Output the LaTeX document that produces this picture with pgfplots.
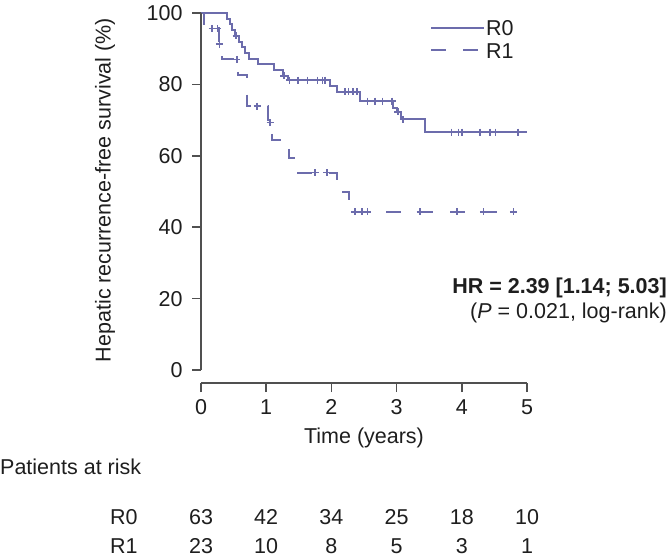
\documentclass[border=0pt]{standalone}
\usepackage{pgfplots}
\pgfplotsset{compat=1.18}
\usepackage{fontspec}
\setmainfont{Liberation Sans}
\definecolor{km}{RGB}{108,108,172}
\definecolor{axc}{RGB}{80,80,80}
\definecolor{txt}{RGB}{30,30,30}
\newcommand{\fs}{\fontsize{21.5}{26}\selectfont}
\begin{document}
\begin{tikzpicture}[x=1pt,y=1pt]
\path[use as bounding box] (0,0) rectangle (668,558);
\begin{axis}[
  at={(201pt,175pt)}, anchor=south west,
  scale only axis, width=326pt, height=370pt,
  xmin=0, xmax=5, ymin=-3.64, ymax=100,
  axis lines=left, axis line style={draw=none},
  clip=false,
  xtick={0,1,2,3,4,5}, ytick={0,20,40,60,80,100},
  tick align=outside, major tick length=9pt,
  tick style={axc, line width=1.7pt},
  tick label style={font=\fs, text=txt},
  yticklabel style={xshift=-6pt},
  xticklabel style={yshift=-4pt},
  /pgf/number format/assume math mode=true,
  every axis y label/.style={at={(axis description cs:-0.294,0.5216)}, rotate=90, anchor=center},
  every axis x label/.style={at={(axis description cs:0.5,-0.1486)}, anchor=center},
  label style={font=\fs, text=txt},
  xlabel={Time (years)},
  ylabel={Hepatic recurrence-free survival (\%)},
  legend image code/.code={\draw[#1] (0pt,0.5pt) -- (42pt,0.5pt); \path (0pt,0.5pt) -- (53pt,0.5pt);},
  legend style={draw=none, fill=none, at={(axis description cs:0.7025,0.982)}, anchor=north west,
    font=\fs, text=txt, inner sep=0pt, row sep=5.5pt,
    nodes={inner sep=1pt, text height=15pt, text depth=0pt}},
  legend cell align=left,
]
% R0 Kaplan-Meier curve
\addplot[km, line width=2pt, const plot] coordinates {
(0,100) (0.40,98.4) (0.44,96.8) (0.47,95.2) (0.52,93.6) (0.58,92.0) (0.63,90.4)
(0.68,88.8) (0.74,87.2) (0.87,85.6) (1.12,84.0) (1.25,82.4) (1.33,81.2)
(1.98,79.6) (2.08,78.0) (2.44,75.3) (2.95,73.4) (3.00,72.3) (3.07,70.2)
(3.44,66.6) (5.00,66.6)};
\addlegendentry{R0}
% R1 Kaplan-Meier curve
\addplot[km, line width=2pt, const plot, dash pattern=on 15pt off 17pt] coordinates {
(0,100) (0.05,95.7) (0.27,91.3) (0.32,87.0) (0.57,82.6) (0.71,73.9)
(1.03,69.3) (1.09,64.4) (1.35,59.4) (1.43,55.3) (2.08,49.9) (2.27,44.3)
(4.85,44.3)};
\addlegendentry{R1}
% censor marks
\addplot[km, only marks, mark=+, mark size=3.5pt, line width=1.5pt, forget plot] coordinates {
(0.54,93.6) (1.27,82.4) (1.36,81.2) (1.49,81.2) (1.63,81.2) (1.79,81.2) (1.86,81.2) (1.90,81.2)
(2.21,78.0) (2.26,78.0) (2.33,78.0) (2.39,78.0) (2.55,75.3) (2.67,75.3) (2.78,75.3) (2.93,75.3)
(3.02,72.3) (3.10,70.2) (3.84,66.6) (3.95,66.6) (4.00,66.6) (4.28,66.6) (4.43,66.6) (4.52,66.6) (4.86,66.6)};
\addplot[km, only marks, mark=+, mark size=3.5pt, line width=1.5pt, forget plot] coordinates {
(0.17,95.7) (0.25,95.7) (0.28,91.3) (0.55,87.0) (0.86,73.9) (1.06,69.3) (1.75,55.3) (1.93,55.3)
(2.36,44.3) (2.47,44.3) (2.55,44.3) (3.36,44.3) (3.93,44.3) (4.33,44.3) (4.79,44.3)};
% axis lines (detached, R style)
\draw[axc, line width=1.8pt] (axis cs:0,-3.64) -- (axis cs:5,-3.64);
\draw[axc, line width=1.8pt] (axis cs:0,0) -- (axis cs:0,100);
\end{axis}
% annotations
\node[anchor=east, font=\fs\bfseries, text=txt, inner sep=0pt] at (667,270) {HR = 2.39 [1.14; 5.03]};
\node[anchor=east, font=\fs, text=txt, inner sep=0pt] at (667,245) {(\textit{P} = 0.021, log-rank)};
% risk table
\node[anchor=west, font=\fs, text=txt, inner sep=0pt] at (0,91) {Patients at risk};
\foreach \lab/\yy in {R0/41, R1/12} {\node[anchor=west, font=\fs, text=txt, inner sep=0pt] at (110,\yy) {\lab};}
\foreach \n [count=\i from 0] in {63,42,34,25,18,10} {\node[font=\fs, text=txt, inner sep=0pt] at (201+65.2*\i,41) {\n};}
\foreach \n [count=\i from 0] in {23,10,8,5,3,1} {\node[font=\fs, text=txt, inner sep=0pt] at (201+65.2*\i,12) {\n};}
\end{tikzpicture}
\end{document}
